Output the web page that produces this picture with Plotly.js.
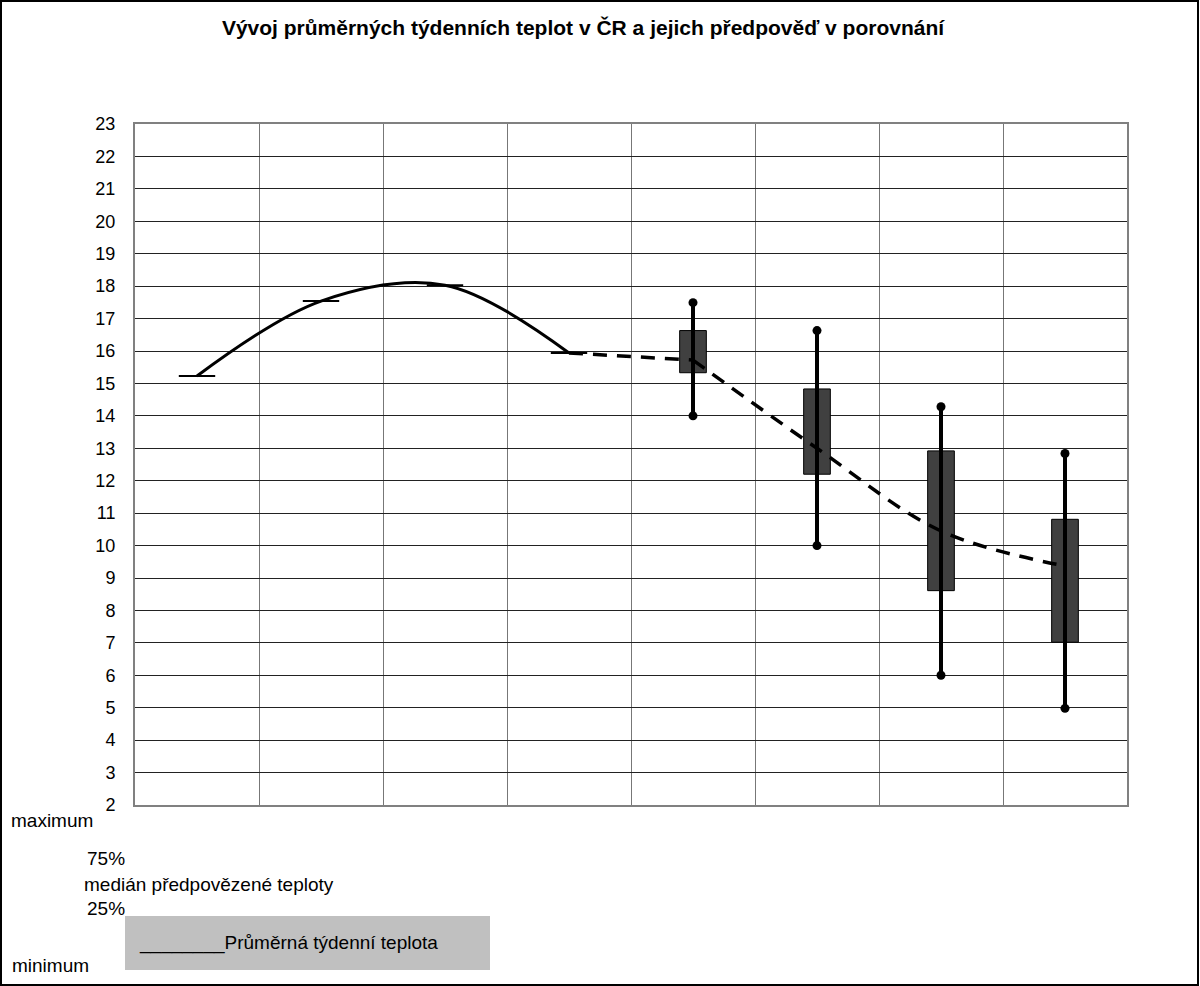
<!DOCTYPE html>
<html><head><meta charset="utf-8">
<script src="https://cdn.plot.ly/plotly-3.0.1.min.js"></script>
<style>html,body{margin:0;padding:0;background:#fff}#chart{width:1200px;height:986px}</style>
</head><body><div id="chart"></div>
<script>
// Data
const weeks = [1, 2, 3, 4, 5, 6, 7, 8];
const observedWeeks = [1, 2, 3, 4];
const observedTemp = [15.23, 17.54, 18.03, 15.94];
const forecastWeeks = [4, 5, 6, 7, 8];
const medianTemp = [15.94, 15.72, 13.0, 10.45, 9.37];
const boxWeeks = [5, 6, 7, 8];
const q1Temp = [15.33, 12.2, 8.61, 7.02];
const q3Temp = [16.63, 14.83, 12.92, 10.81];
const minTemp = [14.0, 10.0, 6.0, 4.98];
const maxTemp = [17.49, 16.63, 14.28, 12.84];
const titleText = 'Vývoj průměrných týdenních teplot v ČR a jejich předpověď v porovnání';
const legendTexts = ['maximum', '75%', 'medián předpovězené teploty', '25%', 'minimum', '________Průměrná týdenní teplota'];

// Plot area in pixels
const L = 135, R = 1127, T = 124, B = 805, W = 1200, H = 986;
const px = x => (x - L) / (R - L);
const py = y => (B - y) / (B - T);

const whiskX = [], whiskY = [];
boxWeeks.forEach((w, i) => { whiskX.push(w, w, null); whiskY.push(minTemp[i], maxTemp[i], null); });

const font = 'Liberation Sans, Arial, sans-serif';
const dashStyle = { color: '#000', width: 3.5, dash: '14px,10px' };

const traces = [
  { type: 'bar', x: boxWeeks, base: q1Temp, y: q3Temp.map((v, i) => v - q1Temp[i]), width: 0.215,
    marker: { color: '#404040', line: { color: '#000', width: 1 } }, hoverinfo: 'skip' },
  { type: 'scatter', mode: 'lines', x: forecastWeeks.slice(0, 2), y: medianTemp.slice(0, 2),
    line: Object.assign({}, dashStyle) },
  { type: 'scatter', mode: 'lines', x: forecastWeeks.slice(1), y: medianTemp.slice(1),
    line: Object.assign({ shape: 'spline', smoothing: 1 }, dashStyle) },
  { type: 'scatter', mode: 'lines+markers', x: whiskX, y: whiskY, connectgaps: false,
    line: { color: '#000', width: 4 }, marker: { color: '#000', size: 9 } },
  { type: 'scatter', mode: 'lines', x: observedWeeks, y: observedTemp,
    line: { color: '#000', width: 3, shape: 'spline', smoothing: 1 } },
  { type: 'scatter', mode: 'markers', x: observedWeeks, y: observedTemp,
    marker: { symbol: 'line-ew', size: 26, color: '#000', line: { color: '#000', width: 2 } } }
];

const ann = [];
const addText = (t, x, y, size) => ann.push({ text: t, xref: 'paper', yref: 'paper', x: px(x), y: py(y),
  xanchor: 'left', yanchor: 'middle', showarrow: false, font: { family: font, size: size || 19, color: '#000' } });
addText(legendTexts[0], 9, 820);
addText(legendTexts[1], 85, 858);
addText(legendTexts[2], 82, 884);
addText(legendTexts[3], 85, 908);
addText(legendTexts[4], 10, 965);
addText(legendTexts[5], 137, 943);

const layout = {
  width: W, height: H,
  margin: { l: L, r: W - R, t: T, b: H - B },
  paper_bgcolor: '#fff', plot_bgcolor: '#fff',
  showlegend: false,
  bargap: 0,
  title: { text: '<b>' + titleText + '</b>', x: 583 / W, xanchor: 'center', y: 1 - 28 / H, yanchor: 'middle',
    font: { family: font, size: 21, color: '#000' } },
  xaxis: { range: [0.5, 8.5], tick0: 0.5, dtick: 1, showticklabels: false, ticks: '',
    showgrid: true, gridcolor: '#777', gridwidth: 1, zeroline: false,
    showline: true, mirror: true, linecolor: '#808080', linewidth: 2 },
  yaxis: { range: [2, 23], tick0: 2, dtick: 1, ticks: '', ticklabelstandoff: 14,
    tickfont: { family: font, size: 18, color: '#000' },
    showgrid: true, gridcolor: '#222', gridwidth: 1, zeroline: false,
    showline: true, mirror: true, linecolor: '#808080', linewidth: 2 },
  annotations: ann,
  shapes: [
    { type: 'rect', xref: 'paper', yref: 'paper', x0: px(125), x1: px(490), y0: py(916), y1: py(970),
      fillcolor: '#c0c0c0', line: { width: 0 }, layer: 'below' },
    { type: 'rect', xref: 'paper', yref: 'paper', x0: px(1), x1: px(1198), y0: py(1), y1: py(985),
      fillcolor: 'rgba(0,0,0,0)', line: { color: '#000', width: 2 } }
  ]
};

Plotly.newPlot('chart', traces, layout, { displayModeBar: false, staticPlot: true });
</script></body></html>
